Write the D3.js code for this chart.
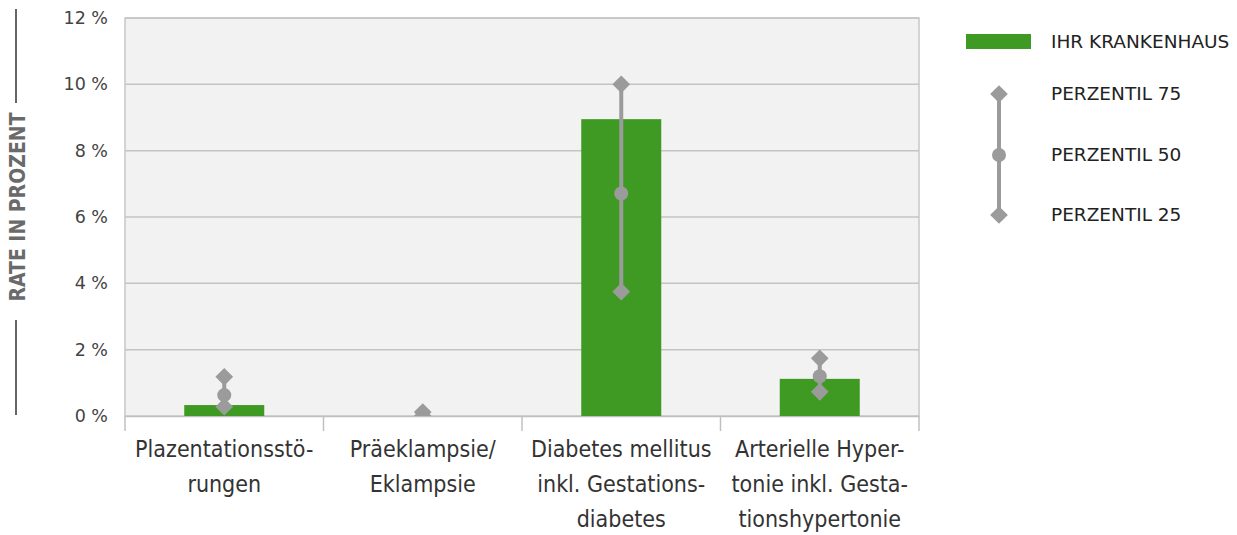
<!DOCTYPE html>
<html><head><meta charset="utf-8">
<script src="https://cdn.jsdelivr.net/npm/d3@7"></script>
<style>body{margin:0;background:#fff}svg{display:block}</style>
</head><body>
<svg id="c" width="1237" height="535"></svg>
<script>
const categories = [
  ["Plazentationsstö-","rungen"],
  ["Präeklampsie/","Eklampsie"],
  ["Diabetes mellitus","inkl. Gestations-","diabetes"],
  ["Arterielle Hyper-","tonie inkl. Gesta-","tionshypertonie"]
];
const hospital = [0.33, 0, 8.95, 1.12];
const p75 = [1.18, 0.12, 10.0, 1.74];
const p50 = [0.63, 0.05, 6.71, 1.2];
const p25 = [0.28, 0.0, 3.75, 0.73];
const yTicks = [0, 2, 4, 6, 8, 10, 12];
const legendLabels = ["IHR KRANKENHAUS","PERZENTIL 75","PERZENTIL 50","PERZENTIL 25"];

const svg = d3.select("#c");
const L = 125, R = 919, T = 18, B = 416;
const green = "#3f9a23", gray = "#9b9b9b";
const x = d3.scaleBand().domain(d3.range(categories.length)).range([L, R]).paddingInner(0).paddingOuter(0);
const y = d3.scaleLinear().domain([0, 12]).range([B, T]);

svg.append("defs").append("clipPath").attr("id","clip")
  .append("rect").attr("x",L).attr("y",T-15).attr("width",R-L).attr("height",B-T+15);

svg.append("rect").attr("x",L).attr("y",T).attr("width",R-L).attr("height",B-T)
  .attr("fill","#f2f2f2").attr("stroke","#c8c8c8").attr("stroke-width",1.5);

// gridlines
svg.append("g").selectAll("line").data(yTicks.slice(1)).join("line")
  .attr("x1",L).attr("x2",R).attr("y1",d=>y(d)).attr("y2",d=>y(d))
  .attr("stroke","#c4c4c4").attr("stroke-width",1.5);

// y axis labels
const ya = svg.append("g").attr("transform",`translate(${L},0)`)
  .call(d3.axisLeft(y).tickValues(yTicks).tickSize(0).tickPadding(17).tickFormat(d=>d+" %"));
ya.select(".domain").remove();
ya.selectAll("text").attr("font-family","DejaVu Sans, sans-serif").attr("font-size",17.5).attr("fill","#444");

// x axis
const xa = svg.append("g").attr("transform",`translate(0,${B})`)
  .call(d3.axisBottom(x).tickValues([]).tickSize(0));
xa.select(".domain").attr("stroke","#c0c0c0").attr("stroke-width",1.5);
svg.append("g").selectAll("line").data(d3.range(categories.length+1)).join("line")
  .attr("x1",i=>L+i*x.bandwidth()).attr("x2",i=>L+i*x.bandwidth())
  .attr("y1",B).attr("y2",B+15).attr("stroke","#c0c0c0").attr("stroke-width",1.5);

const xl = svg.append("g");
categories.forEach((lines,i)=>{
  const t = xl.append("text").attr("x",x(i)+x.bandwidth()/2).attr("y",457)
    .attr("text-anchor","middle").attr("font-family","Liberation Sans Narrow, DejaVu Sans Condensed, sans-serif")
    .attr("font-size",23).attr("fill","#333");
  lines.forEach((s,j)=>t.append("tspan").attr("x",x(i)+x.bandwidth()/2).attr("dy",j?35:0).text(s));
});

// bars
const bw = 80;
svg.append("g").selectAll("rect").data(hospital).join("rect")
  .attr("x",(d,i)=>x(i)+x.bandwidth()/2-bw/2).attr("width",bw)
  .attr("y",d=>y(d)).attr("height",d=>B-y(d)).attr("fill",green);

// percentiles
const pg = svg.append("g").attr("clip-path","url(#clip)");
const diamond = d3.symbol().type(d3.symbolDiamond2).size(200);
categories.forEach((c,i)=>{
  const cx = x(i)+x.bandwidth()/2;
  pg.append("line").attr("x1",cx).attr("x2",cx).attr("y1",y(p75[i])).attr("y2",y(p25[i]))
    .attr("stroke",gray).attr("stroke-width",4);
  pg.append("path").attr("d",diamond).attr("transform",`translate(${cx},${y(p75[i])})`).attr("fill",gray);
  pg.append("path").attr("d",diamond).attr("transform",`translate(${cx},${y(p25[i])})`).attr("fill",gray);
  pg.append("circle").attr("cx",cx).attr("cy",y(p50[i])).attr("r",7).attr("fill",gray);
});

// y title
const yt = svg.append("g");
yt.append("line").attr("x1",16).attr("x2",16).attr("y1",9).attr("y2",103).attr("stroke","#666").attr("stroke-width",2);
yt.append("line").attr("x1",16).attr("x2",16).attr("y1",320).attr("y2",415).attr("stroke","#666").attr("stroke-width",2);
yt.append("text").attr("transform","translate(25,207) rotate(-90)").attr("text-anchor","middle")
  .attr("font-family","Liberation Sans Narrow, DejaVu Sans Condensed, sans-serif").attr("font-size",21)
  .attr("font-weight","bold").attr("fill","#6a6a6a").text("RATE IN PROZENT");

// legend
const lg = svg.append("g").attr("font-family","DejaVu Sans, sans-serif").attr("font-size",18.5).attr("fill","#222");
lg.append("rect").attr("x",966).attr("y",34).attr("width",65).attr("height",15).attr("fill",green);
lg.append("line").attr("x1",999).attr("x2",999).attr("y1",94).attr("y2",215).attr("stroke",gray).attr("stroke-width",4);
lg.append("path").attr("d",diamond).attr("transform","translate(999,94)").attr("fill",gray);
lg.append("circle").attr("cx",999).attr("cy",155).attr("r",7).attr("fill",gray);
lg.append("path").attr("d",diamond).attr("transform","translate(999,215)").attr("fill",gray);
const ly = [42, 94, 155, 215];
legendLabels.forEach((s,i)=>lg.append("text").attr("x",1051).attr("y",ly[i]).attr("dy","0.35em").text(s));
</script>
</body></html>
